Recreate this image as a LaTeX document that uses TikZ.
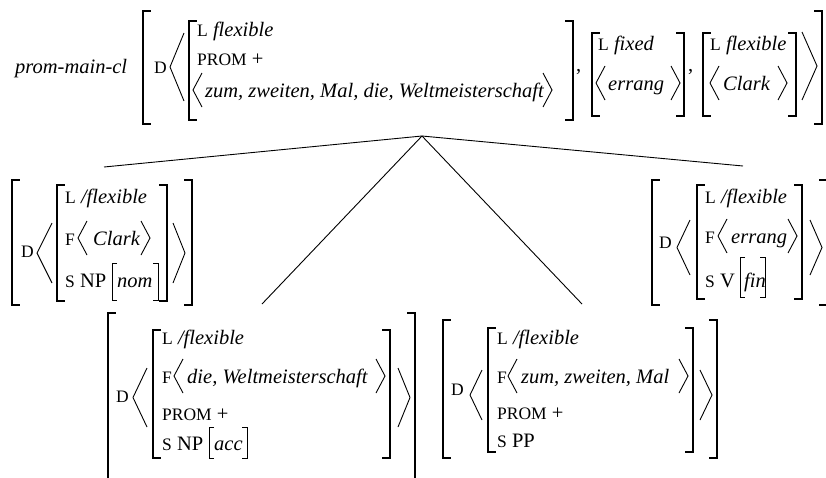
\documentclass[tikz,border=0pt]{standalone}
\usepackage{fontspec}
\setmainfont{Liberation Serif}[ItalicFont={Liberation Serif Italic},BoldFont={Liberation Serif Bold}]
\newcommand\smc[1]{{\fontsize{17.5}{18}\selectfont #1}}
\newcommand\LBr[3]{\draw[brk] ({#1+7},#2) -- (#1,#2) -- (#1,#3) -- ({#1+7},#3);}
\newcommand\RBr[3]{\draw[brk] ({#1-7},#2) -- (#1,#2) -- (#1,#3) -- ({#1-7},#3);}
\newcommand\sLBr[3]{\draw[sbrk] ({#1+5},#2) -- (#1,#2) -- (#1,#3) -- ({#1+5},#3);}
\newcommand\sRBr[3]{\draw[sbrk] ({#1-5},#2) -- (#1,#2) -- (#1,#3) -- ({#1-5},#3);}
\newcommand\Ang[4]{\draw[ang] (#2,#3) -- (#1,{(#3+#4)/2}) -- (#2,#4);}
\newcommand\sAngL[2]{\draw[ang] ({#1+9},{#2-24}) -- (#1,{#2-7}) -- ({#1+9},{#2+10});}
\newcommand\sAngR[2]{\draw[ang] ({#1-9},{#2-24}) -- (#1,{#2-7}) -- ({#1-9},{#2+10});}
\tikzset{
  brk/.style={line width=1.2pt, line cap=rect},
  sbrk/.style={line width=0.9pt},
  ang/.style={line width=0.9pt, line join=miter},
  edge/.style={line width=0.9pt},
  txt/.style={inner sep=0pt, anchor=base west, font=\fontsize{20.5}{24}\selectfont},
}
\begin{document}
\begin{tikzpicture}[x=1pt,y=-1pt]
\useasboundingbox (0,0) rectangle (826,477);
% ===== top node =====
\node[txt] (type) at (15,73) {\itshape prom-main-cl};
\LBr{143}{11}{124}
\node[txt] (tD) at (154,73) {\smc{D}};
\Ang{170}{184}{33}{101}
\LBr{189}{21}{120}
\node[txt] (tL1) at (197,36) {\smc{L} \itshape flexible};
\node[txt] (tP1) at (197,65) {\smc{PROM} +};
\sAngL{193}{97}
\node[txt] (tZ1) at (205,97) {\itshape zum, zweiten, Mal, die, Weltmeisterschaft};
\sAngR{552}{97}
\RBr{573}{21}{120}
\node[txt] (c1) at (576,71) {,};
\LBr{592}{33}{116}
\node[txt] (tL2) at (598,50) {\smc{L} \itshape fixed};
\sAngL{596}{90}
\node[txt] (tE2) at (608,90) {\itshape errang};
\sAngR{680}{90}
\RBr{684}{33}{116}
\node[txt] (c2) at (688,71) {,};
\LBr{703}{33}{116}
\node[txt] (tL3) at (710,50) {\smc{L} \itshape flexible};
\sAngL{710}{90}
\node[txt] (tC3) at (723,90) {\itshape Clark};
\sAngR{787}{90}
\RBr{796}{33}{116}
\Ang{817}{802}{32}{100}
\RBr{822}{11}{124}
% ===== left daughter =====
\LBr{12}{180}{305}
\node[txt] (lD) at (21,257) {\smc{D}};
\Ang{37}{52}{223}{283}
\LBr{57}{185}{301}
\node[txt] (lL) at (65,203) {\smc{L} \itshape /flexible};
\node[txt] (lF) at (65,245) {\smc{F}};
\sAngL{78}{245}
\node[txt] (lC) at (93,245) {\itshape Clark};
\sAngR{150}{245}
\node[txt] (lS) at (65,287) {\smc{S} NP};
\sLBr{112}{263}{300}
\node[txt] (lN) at (117,287) {\itshape nom};
\sRBr{158}{263}{300}
\RBr{167}{185}{301}
\Ang{185}{173}{223}{283}
\RBr{192}{180}{305}
% ===== right daughter =====
\LBr{652}{180}{305}
\node[txt] (rD) at (659,248) {\smc{D}};
\Ang{677}{690}{220}{275}
\LBr{697}{185}{299}
\node[txt] (rL) at (705,203) {\smc{L} \itshape /flexible};
\node[txt] (rF) at (705,243) {\smc{F}};
\sAngL{718}{243}
\node[txt] (rE) at (731,243) {\itshape errang};
\sAngR{797}{243}
\node[txt] (rS) at (705,287) {\smc{S} V};
\sLBr{740}{257}{297}
\node[txt] (rN) at (744,287) {\itshape fin};
\sRBr{765}{257}{297}
\RBr{802}{185}{299}
\Ang{822}{810}{220}{275}
\RBr{827}{180}{305}
% ===== lower-left daughter =====
\LBr{108}{313}{484}
\node[txt] (aD) at (116,402) {\smc{D}};
\Ang{133}{147}{368}{427}
\LBr{153}{330}{458}
\node[txt] (aL) at (162,344) {\smc{L} \itshape /flexible};
\node[txt] (aF) at (162,383) {\smc{F}};
\sAngL{174}{383}
\node[txt] (aW) at (187,383) {\itshape die, Weltmeisterschaft};
\sAngR{385}{383}
\node[txt] (aP) at (162,420) {\smc{PROM} +};
\node[txt] (aS) at (162,450) {\smc{S} NP};
\sLBr{209}{427}{458}
\node[txt] (aN) at (214,450) {\itshape acc};
\sRBr{247}{427}{458}
\RBr{390}{330}{458}
\Ang{410}{398}{368}{427}
\RBr{415}{313}{484}
% ===== lower-right daughter =====
\LBr{443}{320}{458}
\node[txt] (bD) at (451,395) {\smc{D}};
\Ang{470}{482}{370}{420}
\LBr{488}{328}{452}
\node[txt] (bL) at (497,344) {\smc{L} \itshape /flexible};
\node[txt] (bF) at (497,383) {\smc{F}};
\sAngL{508}{383}
\node[txt] (bZ) at (521,383) {\itshape zum, zweiten, Mal};
\sAngR{688}{383}
\node[txt] (bP) at (497,419) {\smc{PROM} +};
\node[txt] (bS) at (497,447) {\smc{S} PP};
\RBr{693}{328}{452}
\Ang{712}{700}{370}{420}
\RBr{717}{320}{458}
% ===== tree lines =====
\coordinate (apex) at (422,136);
\coordinate (e1) at (104,167);
\coordinate (e2) at (743,166);
\coordinate (e3) at (262,304);
\coordinate (e4) at (582,304);
\draw[edge] (apex) -- (e1);
\draw[edge] (apex) -- (e2);
\draw[edge] (apex) -- (e3);
\draw[edge] (apex) -- (e4);
\end{tikzpicture}
\end{document}
